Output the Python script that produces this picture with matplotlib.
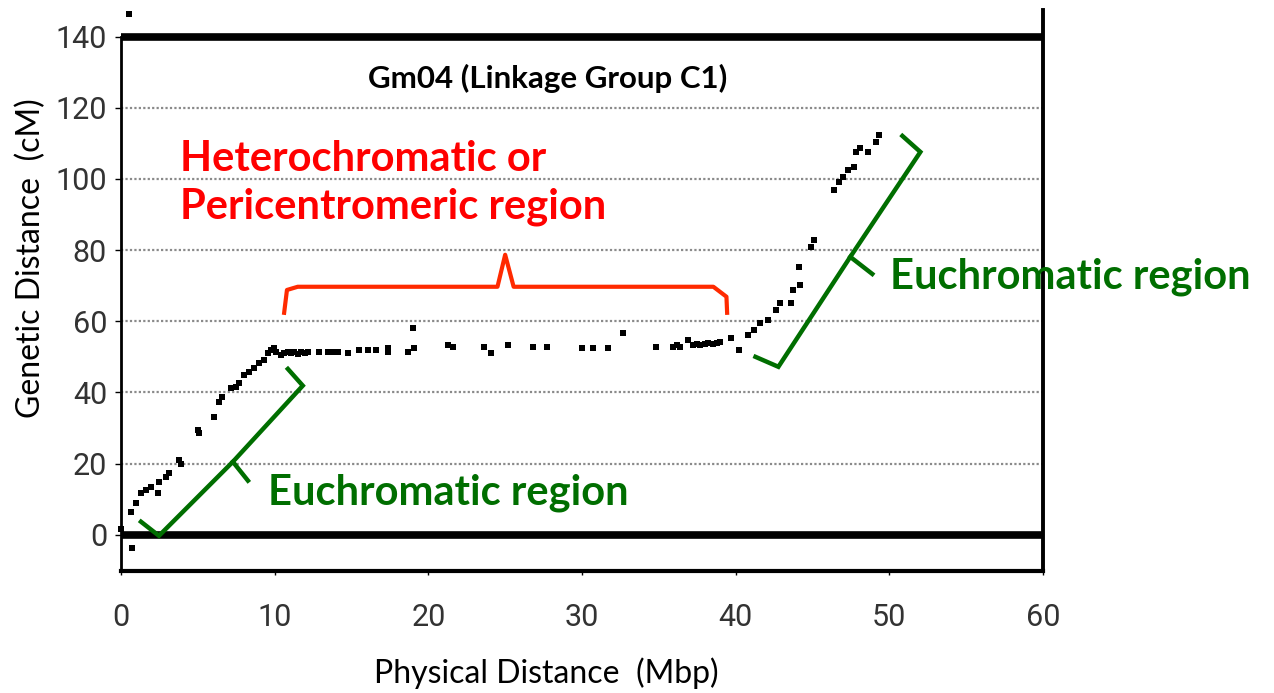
import matplotlib
matplotlib.use("Agg")
import matplotlib.pyplot as plt

# ---- data ----
phys_mbp = [0.0, 0.7, 0.65, 1.0, 1.3, 1.6, 1.95, 2.4, 2.5, 2.9, 3.1, 3.8, 3.9,
            5.0, 5.1, 6.05, 6.4, 6.6, 7.15, 7.5, 7.7, 8.0, 8.3, 8.65, 9.0, 9.3,
            9.55, 9.75, 9.95, 10.1, 10.4, 10.6, 10.85, 11.05, 11.25, 11.5, 11.7,
            12.0, 12.2, 12.9, 13.45, 13.8, 14.1, 14.8, 15.5, 16.1, 16.6, 17.35,
            17.4, 18.7, 19.0, 19.05, 21.3, 21.6, 23.6, 24.05, 25.2, 26.8, 27.75,
            30.0, 30.7, 31.7, 32.7, 34.8, 35.95, 36.2, 36.4, 36.9, 37.2, 37.5,
            37.7, 38.0, 38.2, 38.5, 38.8, 39.0, 39.7, 40.2, 40.8, 41.2, 41.6,
            42.1, 42.6, 42.9, 43.6, 43.7, 44.2, 44.1, 44.9, 45.1, 46.4, 46.7,
            47.0, 47.3, 47.7, 47.8, 48.1, 48.6, 49.1, 49.3, 0.5]
gen_cm = [1.5, -3.7, 6.5, 9.0, 11.8, 12.6, 13.5, 11.8, 14.9, 16.3, 17.4, 21.0, 20.0,
          29.5, 28.6, 33.0, 37.4, 38.8, 41.3, 41.6, 42.7, 45.0, 45.8, 46.9, 48.3, 49.2,
          51.0, 52.0, 52.5, 51.4, 50.6, 51.0, 51.4, 51.0, 51.4, 50.8, 51.4,
          51.0, 51.4, 51.4, 51.4, 51.4, 51.4, 51.0, 52.0, 52.0, 52.0, 52.5,
          51.4, 51.4, 58.0, 52.5, 53.4, 52.8, 52.8, 51.0, 53.4, 52.8, 52.8,
          52.5, 52.5, 52.5, 56.7, 52.8, 52.8, 53.2, 52.8, 54.8, 53.4, 53.6,
          53.4, 53.6, 53.9, 53.6, 53.9, 54.2, 55.3, 52.0, 56.2, 57.6, 59.6,
          60.4, 63.2, 65.2, 65.2, 68.8, 70.2, 75.3, 80.9, 82.9, 96.9, 99.2,
          100.6, 102.5, 103.4, 107.6, 108.7, 107.6, 110.4, 112.4, 146.5]

x_ticks = [0, 10, 20, 30, 40, 50, 60]
y_ticks = [0, 20, 40, 60, 80, 100, 120, 140]
grid_levels = [20, 40, 60, 80, 100, 120]
bold_levels = [0, 140]

title_text = "Gm04 (Linkage Group C1)"
hetero_text = "Heterochromatic or\nPericentromeric region"
eu_text = "Euchromatic region"

# bracket outlines (annotation shapes, data coords)
red_bx = [10.6, 10.8, 11.5, 24.5, 25.0, 25.55, 38.55, 39.4, 39.45]
red_by = [61.8, 68.8, 69.7, 69.7, 78.7, 69.7, 69.7, 66.9, 61.8]
g1_x = [1.3, 2.47, 7.28, 11.83, 10.86]
g1_y = [3.65, -0.3, 20.5, 41.9, 46.6]
g1_tick_x = [7.28, 8.26]
g1_tick_y = [20.5, 15.2]
g2_x = [41.29, 42.78, 47.46, 52.02, 50.85]
g2_y = [50.0, 47.2, 78.1, 107.6, 112.1]
g2_tick_x = [47.46, 48.89]
g2_tick_y = [78.1, 73.3]

RED = "#ff0000"
BRACKET_RED = "#ff2a00"
GREEN = "#006e00"

fig = plt.figure(figsize=(12.74, 6.93), dpi=100)
ax = fig.add_axes([121/1274, 1 - 571/693, (1043-121)/1274, (571-10)/693])
ax.set_xlim(0, 60)
ax.set_ylim(-10.2, 147.5)

for lv in grid_levels:
    ax.axhline(lv, color="#8a8a8a", lw=1.6, ls=(0, (1, 1)), zorder=1)
for lv in bold_levels:
    ax.axhline(lv, color="black", lw=5.5, zorder=2)

ax.scatter(phys_mbp, gen_cm, s=18, marker="s", color="black", zorder=4,
           linewidths=0, clip_on=False)

ax.plot(red_bx, red_by, color=BRACKET_RED, lw=3, solid_joinstyle="round",
        solid_capstyle="butt", zorder=5)
for xs, ys in [(g1_x, g1_y), (g1_tick_x, g1_tick_y), (g2_x, g2_y), (g2_tick_x, g2_tick_y)]:
    ax.plot(xs, ys, color=GREEN, lw=3.2, solid_joinstyle="miter", zorder=5, clip_on=False)

ax.spines["top"].set_visible(False)
ax.spines["left"].set_linewidth(2)
ax.spines["left"].set_bounds(-10.2, 140)
ax.spines["right"].set_linewidth(2.8)
ax.spines["bottom"].set_linewidth(3)

tick_font = ["Roboto", "DejaVu Sans"]
ax.set_xticks(x_ticks)
ax.set_yticks(y_ticks)
ax.set_xticklabels([str(v) for v in x_ticks], family=tick_font, fontsize=22, color="#333333")
ax.set_yticklabels([str(v) for v in y_ticks], family=tick_font, fontsize=22, color="#333333")
ax.tick_params(axis="x", length=3, width=1, pad=20)
ax.tick_params(axis="y", length=4, width=1, pad=6)

lab_font = ["Lato", "DejaVu Sans"]
ax.set_xlabel("Physical Distance  (Mbp)", family=lab_font, fontsize=23)
ax.set_ylabel("Genetic Distance  (cM)", family=lab_font, fontsize=23)
ax.xaxis.set_label_coords((546 - 121) / 922, (571 - 657) / 561)
ax.yaxis.set_label_coords((46 - 121) / 922, (571 - 258) / 561)

fig.text(548/1274, 1 - 78/693, title_text, family=lab_font, fontweight="bold",
         fontsize=22.5, ha="center", va="center")
fig.text(180/1274, 1 - 183/693, hetero_text, family=lab_font, fontweight="bold",
         fontsize=30, color=RED, ha="left", va="center", linespacing=1.3)
fig.text(268/1274, 1 - 493/693, eu_text, family=lab_font, fontweight="bold",
         fontsize=30, color=GREEN, ha="left", va="center")
fig.text(890/1274, 1 - 277/693, eu_text, family=lab_font, fontweight="bold",
         fontsize=30, color=GREEN, ha="left", va="center")

fig.savefig("out.png", dpi=100)
